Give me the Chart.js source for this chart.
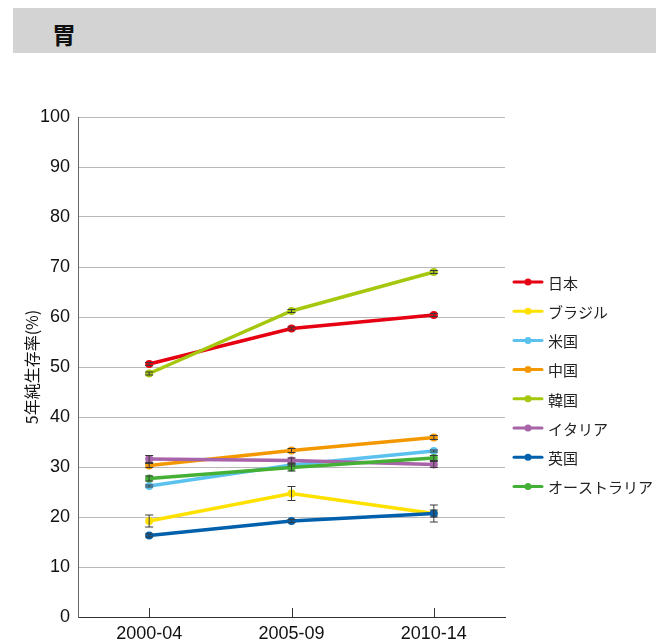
<!DOCTYPE html>
<html>
<head>
<meta charset="utf-8">
<script src="https://cdn.jsdelivr.net/npm/chart.js@4"></script>
<style>
    body { margin: 0; background: #fff; }
    .header {
        position: absolute; left: 13px; top: 8px; width: 643px; height: 45px;
        background: #d3d3d3;
    }
    .header span {
        position: absolute; left: 39px; top: 8px;
        font: bold 24px "Noto Sans CJK JP", sans-serif; color: #111;
    }
    #chart { position: absolute; left: 0; top: 0; }
</style>
</head>
<body>
<div class="header"><span>胃</span></div>
<canvas id="chart" width="662" height="643"></canvas>
<script>
// periods on x axis
const periods = ['2000-04', '2005-09', '2010-14'];
const yTicks = [0, 10, 20, 30, 40, 50, 60, 70, 80, 90, 100];

// 5-year net survival (%) per country
const japan     = [50.6, 57.7, 60.4];
const brazil    = [19.2, 24.7, 20.7];
const usa       = [26.2, 30.4, 33.2];
const china     = [30.3, 33.3, 35.9];
const korea     = [48.7, 61.2, 69.0];
const italy     = [31.6, 31.3, 30.5];
const uk        = [16.3, 19.2, 20.7];
const australia = [27.7, 29.9, 31.8];

// +/- confidence interval half widths
const japanErr     = [0.3, 0.3, 0.3];
const brazilErr    = [1.2, 1.4, 1.7];
const usaErr       = [0.2, 0.2, 0.2];
const chinaErr     = [0.4, 0.4, 0.4];
const koreaErr     = [0.3, 0.3, 0.3];
const italyErr     = [0.7, 0.5, 0.6];
const ukErr        = [0.3, 0.3, 0.7];
const australiaErr = [0.5, 0.7, 0.5];

const countryNames = ['日本', 'ブラジル', '米国', '中国', '韓国', 'イタリア', '英国', 'オーストラリア'];
const seriesValues = [japan, brazil, usa, china, korea, italy, uk, australia];
const seriesErrors = [japanErr, brazilErr, usaErr, chinaErr, koreaErr, italyErr, ukErr, australiaErr];
const seriesColors = ['#e60012', '#ffe100', '#5bc2ef', '#f39800', '#a5c80e', '#a864a8', '#0060ac', '#44b035'];

const numFont = '"Liberation Sans", Arial, sans-serif';
const jpFont = '"Noto Sans CJK JP", sans-serif';

// error bars drawn from the scales
const errorBarPlugin = {
    id: 'errorBars',
    afterDatasetsDraw(chart) {
        const ctx = chart.ctx;
        const xs = chart.scales.x, ys = chart.scales.y;
        ctx.save();
        ctx.strokeStyle = '#3a3a3a';
        ctx.lineWidth = 1;
        seriesValues.forEach((vals, i) => {
            vals.forEach((v, j) => {
                const e = seriesErrors[i][j];
                const x = xs.getPixelForValue(j);
                const y1 = ys.getPixelForValue(v - e);
                const y2 = ys.getPixelForValue(v + e);
                ctx.beginPath();
                ctx.moveTo(x, y1); ctx.lineTo(x, y2);
                ctx.moveTo(x - 4, y1); ctx.lineTo(x + 4, y1);
                ctx.moveTo(x - 4, y2); ctx.lineTo(x + 4, y2);
                ctx.stroke();
            });
        });
        ctx.restore();
    }
};

// short tick marks above the x axis + legend on the right
const decorPlugin = {
    id: 'decor',
    afterDraw(chart) {
        const ctx = chart.ctx;
        const xs = chart.scales.x;
        const area = chart.chartArea;
        ctx.save();
        ctx.strokeStyle = '#333';
        ctx.lineWidth = 1;
        periods.forEach((p, j) => {
            const x = Math.round(xs.getPixelForValue(j)) + 0.5;
            ctx.beginPath();
            ctx.moveTo(x, area.bottom);
            ctx.lineTo(x, area.bottom - 9);
            ctx.stroke();
        });

        chart.data.datasets.forEach((ds, i) => {
            const y = 282 + i * 29.2;
            ctx.strokeStyle = ds.borderColor;
            ctx.lineWidth = 3;
            ctx.lineCap = 'round';
            ctx.beginPath();
            ctx.moveTo(514, y); ctx.lineTo(542, y);
            ctx.stroke();
            ctx.fillStyle = ds.borderColor;
            ctx.beginPath();
            ctx.arc(528, y, 3.5, 0, Math.PI * 2);
            ctx.fill();
            ctx.fillStyle = '#222';
            ctx.font = '15px ' + jpFont;
            ctx.textBaseline = 'middle';
            ctx.fillText(ds.label, 548, y + 1);
        });
        ctx.restore();
    }
};

const datasets = countryNames.map((name, i) => ({
    label: name,
    data: seriesValues[i],
    borderColor: seriesColors[i],
    backgroundColor: seriesColors[i],
    borderWidth: 3.5,
    pointRadius: 4,
    pointBorderWidth: 0,
    pointHoverRadius: 4,
    order: countryNames.length - i,
    tension: 0
}));

new Chart(document.getElementById('chart'), {
    type: 'line',
    data: { labels: periods, datasets: datasets },
    options: {
        responsive: false,
        animation: false,
        layout: { padding: { left: 0, top: 117, right: 157, bottom: 0 } },
        plugins: { legend: { display: false }, tooltip: { enabled: false } },
        scales: {
            x: {
                offset: true,
                grid: { display: false, drawTicks: false },
                border: { display: true, color: '#333', width: 1 },
                ticks: { color: '#111', font: { family: numFont, size: 18 }, padding: 6, maxRotation: 0 },
                afterFit(scale) { scale.height = 26; }
            },
            y: {
                min: 0,
                max: 100,
                afterBuildTicks(scale) { scale.ticks = yTicks.map(v => ({ value: v })); },
                grid: { color: '#b8b8b8', lineWidth: 1, drawTicks: false },
                border: { display: true, color: '#666', width: 1 },
                ticks: { color: '#111', font: { family: numFont, size: 18 }, padding: 8 },
                title: {
                    display: true,
                    text: '5年純生存率(%)',
                    color: '#111',
                    font: { family: jpFont, size: 16 },
                    padding: { top: 22, bottom: 0 }
                },
                afterFit(scale) { scale.width = 78; }
            }
        }
    },
    plugins: [errorBarPlugin, decorPlugin]
});
</script>
</body>
</html>
